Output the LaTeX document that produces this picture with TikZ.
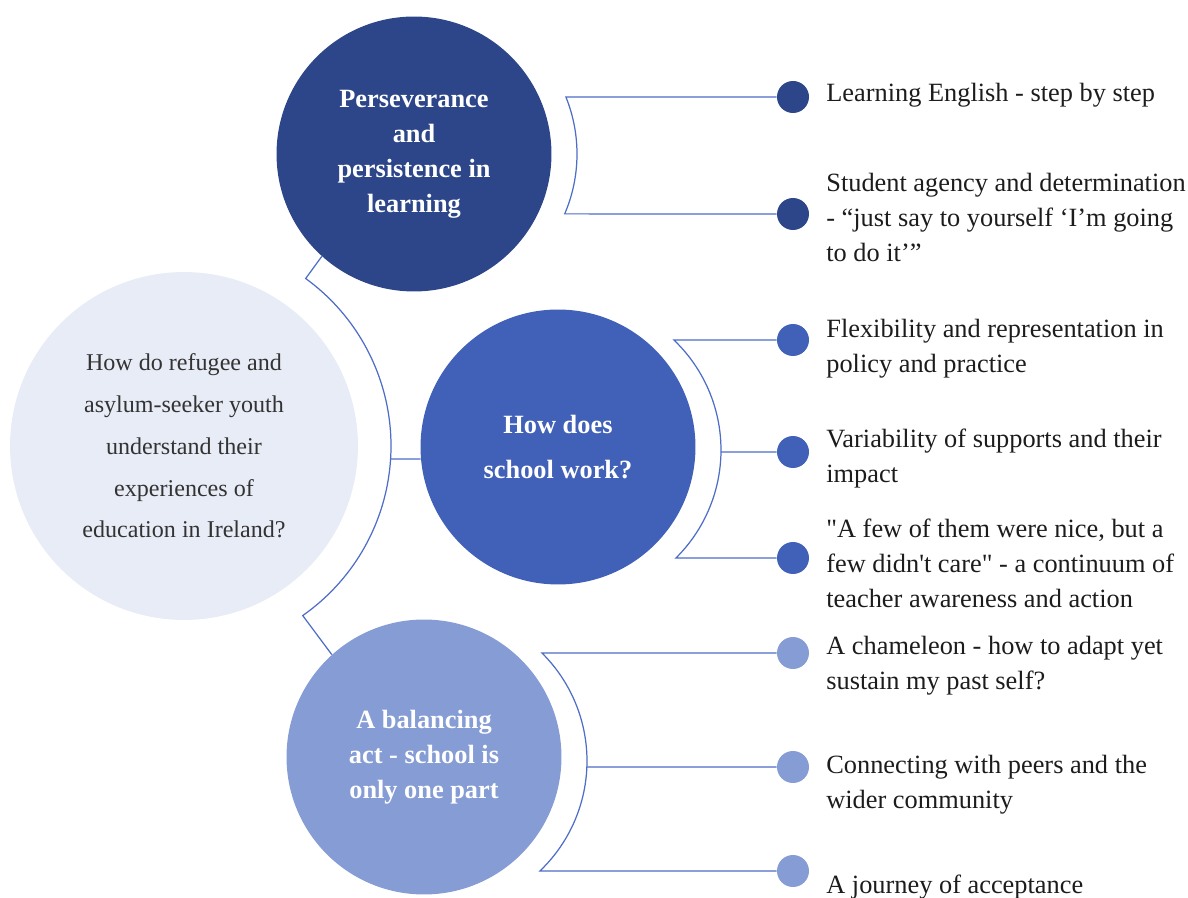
\documentclass[tikz,border=0pt]{standalone}
\usepackage{fontspec}
\setmainfont{Liberation Serif}
\usetikzlibrary{positioning}
\definecolor{deepblue}{HTML}{2D4689}
\definecolor{midblue}{HTML}{4161B8}
\definecolor{paleblue}{HTML}{869CD4}
\definecolor{mistblue}{HTML}{E8ECF7}
\definecolor{linkblue}{HTML}{4D6DC6}
\definecolor{inkdark}{HTML}{1C1C1C}
\definecolor{inkgrey}{HTML}{333333}
\tikzset{
  theme/.style = {circle, fill=#1, minimum size=5.5cm, inner sep=0pt, align=center,
                  text=white, font=\fontsize{15}{19.9}\selectfont\bfseries},
  hub/.style   = {circle, fill=mistblue, minimum size=6.96cm, inner sep=0pt, align=center,
                  text=inkgrey, font=\fontsize{13.7}{23.8}\selectfont},
  pip/.style   = {circle, fill=#1, minimum size=0.64cm, inner sep=0pt},
  item/.style  = {anchor=north west, align=left, inner sep=0pt, text=inkdark,
                  font=\fontsize{15}{19.9}\selectfont},
  link/.style  = {draw=linkblue, line width=0.7pt},
}

\begin{document}
\begin{tikzpicture}[x=0.02cm, y=-0.02cm]
  \useasboundingbox (0,0) rectangle (1188,898);

  % central question and the three themes
  \node[hub] (hub) at (184,446) {How do refugee and\\asylum-seeker youth\\understand their\\experiences of\\education in Ireland?};
  \node[theme=deepblue] (persist) at (414,154) {Perseverance\\and\\persistence in\\learning};
  \node[theme=midblue, font=\fontsize{15}{25.5}\selectfont\bfseries] (school) at (558,447) {How does\\school work?};
  \node[theme=paleblue] (balance) at (424,757) {A balancing\\act - school is\\only one part};

  \coordinate (persistarc) at ([shift={(11,0)}]persist.center);
  \coordinate (schoolarc) at ([shift={(11,3)}]school.center);
  \coordinate (balancearc) at ([shift={(11,4)}]balance.center);

  % sub-theme bullets
  \node[pip=deepblue] (d11) at (793,97) {};
  \node[pip=deepblue] (d12) at (793,214) {};
  \node[pip=midblue] (d21) at (793,340) {};
  \node[pip=midblue] (d22) at (793,452) {};
  \node[pip=midblue] (d23) at (793,558) {};
  \node[pip=paleblue] (d31) at (793,653) {};
  \node[pip=paleblue] (d32) at (793,767) {};
  \node[pip=paleblue] (d33) at (793,871) {};

  % spine round the question
  \draw[link] (persist.228) -- ([shift={(-54:207)}]hub.center)
    arc[start angle=-54, end angle=55, radius=207] -- (balance.132);
  \draw[link] (school.185) -- ([shift={(3.6:207)}]hub.center);

  % brackets out to the bullets
  \draw[link] (d11) -- ([shift={(-22:152)}]persistarc)
    arc[start angle=-22, end angle=23.2, radius=152] -- (d12);
  \draw[link] (d21) -- ([shift={(-46.4:152)}]schoolarc)
    arc[start angle=-46.4, end angle=45.3, radius=152] -- (d23);
  \draw[link] (d22) -- ([shift={(0.75:152)}]schoolarc);
  \draw[link] (d31) -- ([shift={(-45.3:152)}]balancearc)
    arc[start angle=-45.3, end angle=46.4, radius=152] -- (d33);
  \draw[link] (d32) -- ([shift={(2.3:152)}]balancearc);

  % sub-theme labels
  \node[item] (t11) at (826,83) {Learning English - step by step};
  \node[item] (t12) at (826,173) {Student agency and determination\\- “just say to yourself ‘I’m going\\to do it’”};
  \node[item] (t21) at (826,319) {Flexibility and representation in\\policy and practice};
  \node[item] (t22) at (826,429) {Variability of supports and their\\impact};
  \node[item] (t23) at (826,519) {\textquotedbl A few of them were nice, but a\\few didn\textquotesingle t care\textquotedbl{} - a continuum of\\teacher awareness and action};
  \node[item] (t31) at (826,636) {A chameleon - how to adapt yet\\sustain my past self?};
  \node[item] (t32) at (826,755) {Connecting with peers and the\\wider community};
  \node[item] (t33) at (826,875) {A journey of acceptance};
\end{tikzpicture}
\end{document}
